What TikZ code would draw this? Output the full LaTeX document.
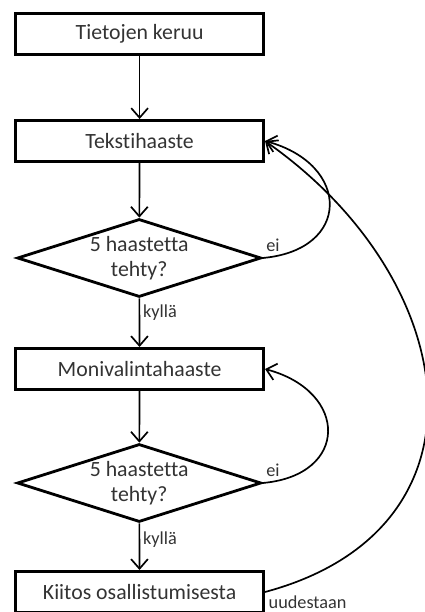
\documentclass[tikz,border=0pt]{standalone}
\usepackage{fontspec}
\setmainfont[Ligatures=NoCommon]{Carlito}
\usetikzlibrary{shapes,arrows.meta,positioning,calc}

\begin{document}
\begin{tikzpicture}
  \tikzstyle{box}=[rectangle, draw, line width=2pt, minimum width=6.2cm, minimum height=1.03cm, text=black!80, font=\fontsize{15.5}{18}\selectfont, align=center]
  \tikzstyle{decision}=[diamond, draw, line width=2pt, minimum width=6.1cm, minimum height=1.95cm, inner sep=0pt, shape aspect=3, text=black!80, font=\fontsize{15.5}{18}\selectfont, align=center]
  \tikzstyle{flow}=[line width=1.2pt, -{Straight Barb[length=2.4mm,width=4.2mm]}]
  \tikzstyle{lbl}=[text=black!80, font=\fontsize{13}{15}\selectfont, inner sep=2pt]

  \useasboundingbox (0,0) rectangle (10.625,15.3);

  % Vaiheet
  \node[box] (keruu) at (3.49,14.45) {Tietojen keruu};
  \node[box] (teksti) at (3.49,11.775) {Tekstihaaste};
  \node[decision] (tarkistus1) at (3.48,8.85) {5 haastetta\\tehty?};
  \node[box] (moni) at (3.49,6.075) {Monivalintahaaste};
  \node[decision] (tarkistus2) at (3.48,3.225) {5 haastetta\\tehty?};
  \node[box] (kiitos) at (3.49,0.5) {Kiitos osallistumisesta};

  % Eteenpäin
  \draw[flow] (keruu) -- (teksti);
  \draw[flow] (teksti) -- (tarkistus1);
  \draw[flow] (tarkistus1) -- node[lbl, right, pos=0.3] {kyllä} (moni);
  \draw[flow] (moni) -- (tarkistus2);
  \draw[flow] (tarkistus2) -- node[lbl, right, pos=0.35] {kyllä} (kiitos);

  % Takaisin
  \draw[flow] (tarkistus1.east) to[out=5, in=-15, looseness=1.95] node[lbl, pos=0, above right, yshift=2pt] {ei} (teksti.east);
  \draw[flow] (tarkistus2.east) to[out=5, in=-15, looseness=1.95] node[lbl, pos=0, above right, yshift=2pt] {ei} (moni.east);
  \draw[flow] (kiitos.east) to[out=15, in=-35, looseness=1.38] node[lbl, pos=0, below right] {uudestaan} (teksti.east);
\end{tikzpicture}
\end{document}
